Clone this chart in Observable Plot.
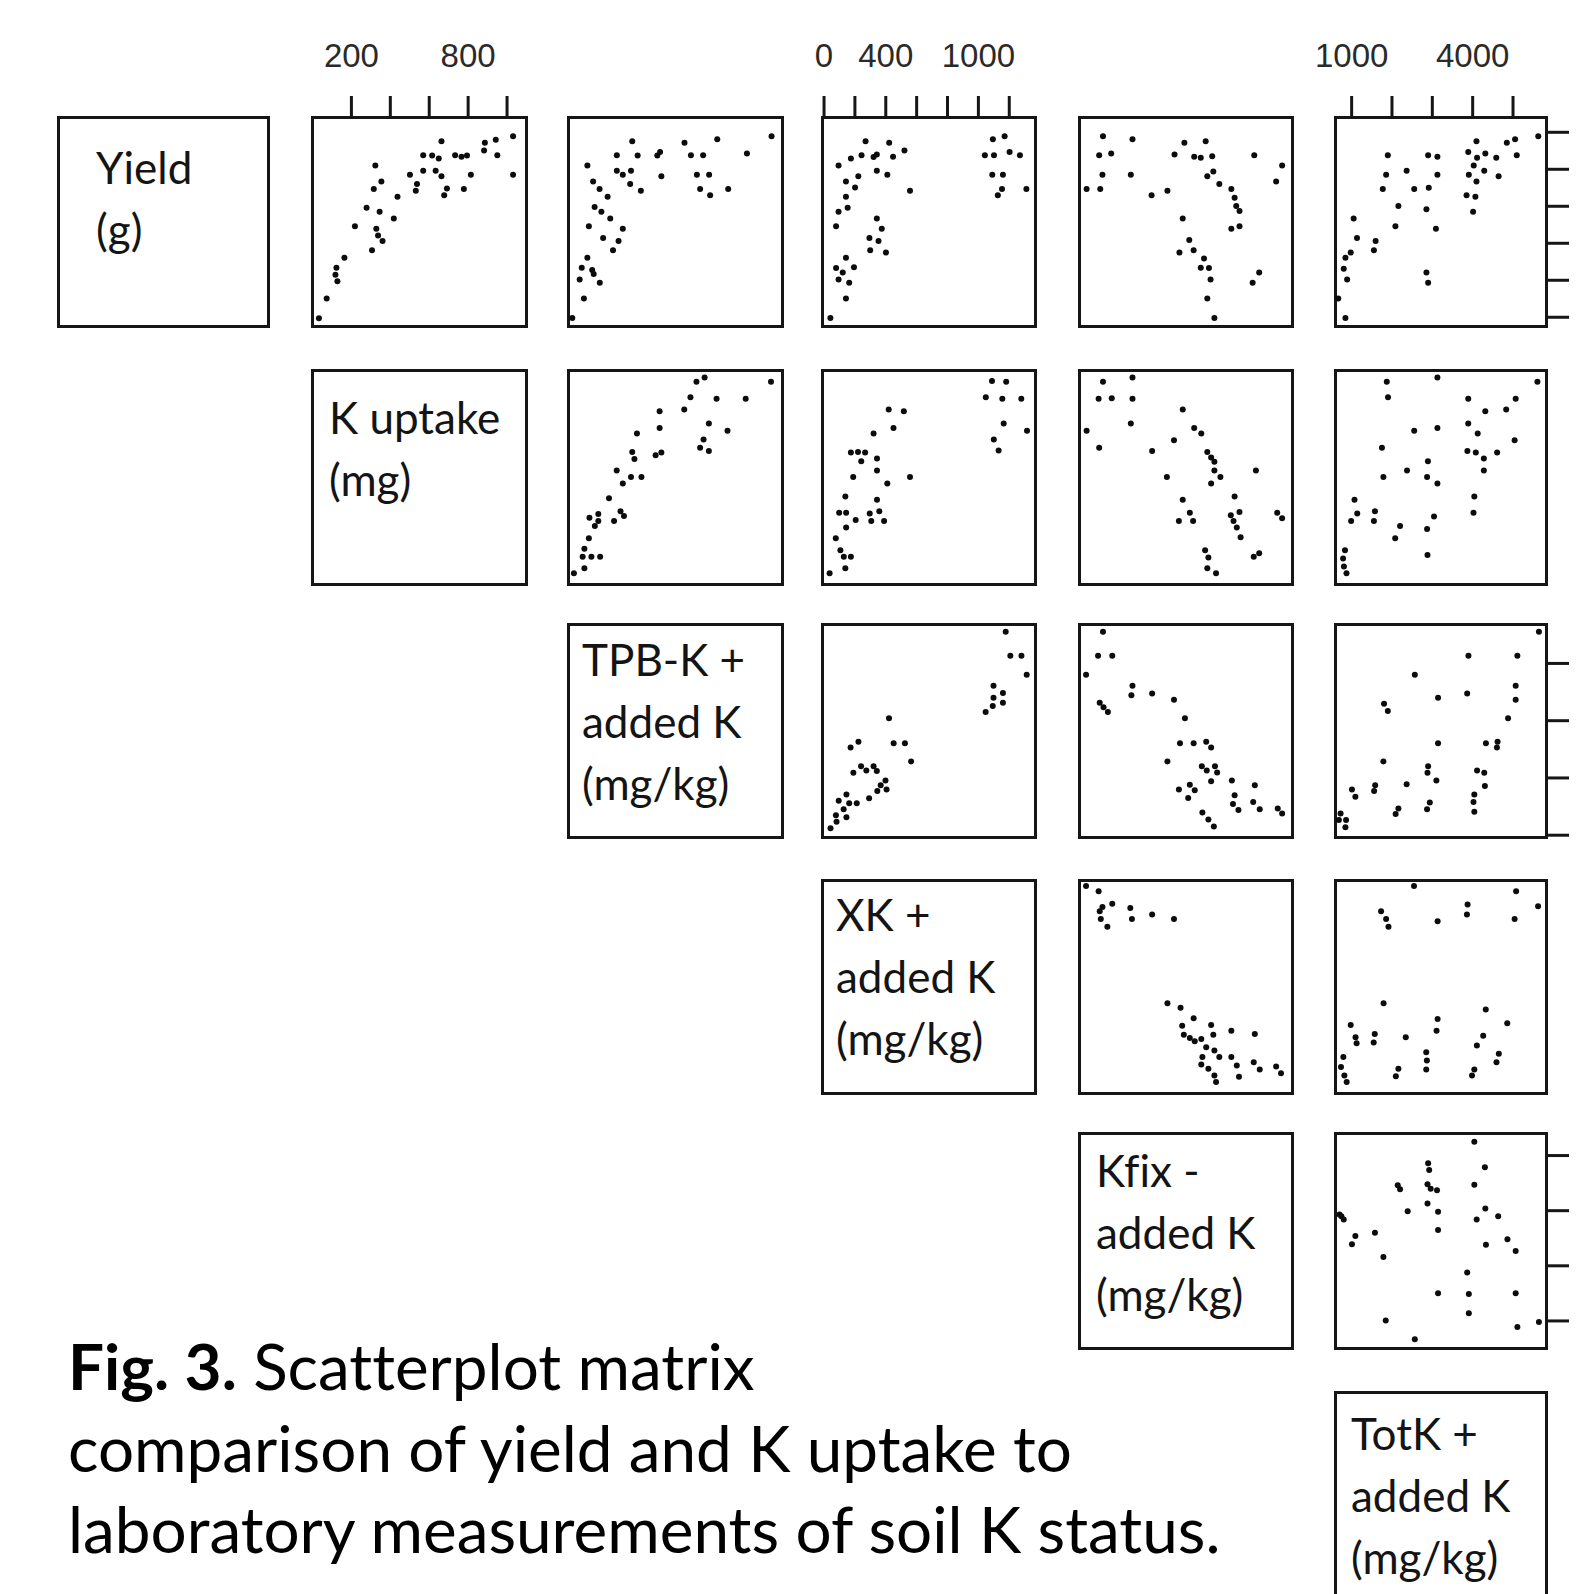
<!DOCTYPE html>
<html><head><meta charset="utf-8">
<script src="https://cdn.jsdelivr.net/npm/d3@7"></script>
<script src="https://cdn.jsdelivr.net/npm/@observablehq/plot@0.6"></script>
<style>
html,body{margin:0;padding:0;background:#fff;overflow:hidden;}
#chart{position:relative;width:1577px;height:1594px;overflow:hidden;background:#fff;}
#chart svg{position:absolute;overflow:visible;}
#chart text{font-variant-ligatures:none;font-feature-settings:"liga" 0;}
</style></head>
<body><div id="chart"></div>
<script>
// ---------- variables, scales, ticks ----------
const variableLabels = ["Yield\n(g)", "K uptake\n(mg)", "TPB-K +\nadded K\n(mg/kg)", "XK +\nadded K\n(mg/kg)", "Kfix -\nadded K\n(mg/kg)", "TotK +\nadded K\n(mg/kg)"];
const variableDomains = [[0.75, 6.4], [0, 1100], [-20, 1840], [-10, 1370], [-350, 40], [600, 5830]];
const yieldTicks = [1, 2, 3, 4, 5, 6];
const kUptakeTicks = [200, 400, 600, 800, 1000];
const kUptakeTickLabels = [200, 800];
const tpbkTicks = [0, 500, 1000, 1500];
const xkTicks = [0, 200, 400, 600, 800, 1000, 1200];
const xkTickLabels = [0, 400, 1000];
const kfixTicks = [-300, -200, -100, 0];
const totkTicks = [1000, 2000, 3000, 4000, 5000];
const totkTickLabels = [1000, 4000];

// ---------- data: [x, y] per panel ----------
const yieldVsKUptake = [[1031,5.89],[886,5.72],[942,5.80],[882,5.51],[950,5.38],[663,5.76],[569,5.38],[615,5.37],[649,5.29],[733,5.38],[766,5.34],[794,5.37],[1031,4.85],[814,4.85],[569,4.96],[633,4.96],[663,4.81],[501,4.85],[537,4.60],[531,4.42],[691,4.48],[677,4.30],[778,4.47],[323,5.10],[354,4.67],[315,4.47],[437,4.26],[278,3.96],[345,3.85],[418,3.67],[218,3.46],[328,3.39],[337,3.21],[360,3.06],[306,2.81],[164,2.61],[123,2.34],[118,2.15],[128,1.97],[73,1.51],[33,0.97]];
const yieldVsTpbk = [[1745,5.89],[1273,5.81],[988,5.72],[534,5.76],[400,5.38],[581,5.37],[752,5.37],[776,5.47],[1044,5.38],[1150,5.38],[1531,5.43],[144,5.10],[400,4.96],[452,4.85],[523,4.96],[516,4.60],[609,4.42],[787,4.81],[1096,4.85],[1202,4.85],[1124,4.47],[1211,4.30],[1368,4.47],[194,4.67],[250,4.47],[320,4.26],[207,3.98],[266,3.85],[343,3.67],[157,3.46],[452,3.39],[281,3.14],[415,3.06],[367,2.81],[144,2.61],[95,2.34],[186,2.28],[199,2.17],[77,2.02],[252,1.93],[114,1.51],[13,0.98]];
const yieldVsXk = [[1094,5.81],[1170,5.89],[1042,5.38],[1101,5.38],[1202,5.47],[1269,5.38],[1090,4.85],[1159,4.85],[1153,4.47],[1126,4.30],[1311,4.47],[269,5.76],[422,5.72],[521,5.51],[174,5.29],[243,5.38],[321,5.33],[342,5.40],[447,5.34],[94,5.10],[222,4.81],[342,4.96],[410,4.85],[142,4.67],[201,4.51],[557,4.42],[142,4.26],[153,3.96],[94,3.85],[78,3.46],[342,3.67],[374,3.39],[294,3.14],[353,3.06],[299,2.81],[401,2.75],[142,2.61],[78,2.33],[121,2.21],[194,2.35],[94,2.02],[163,1.93],[142,1.51],[41,0.98]];
const yieldVsKfix = [[-307,5.89],[-253,5.81],[-314,5.38],[-292,5.43],[-308,4.85],[-256,4.85],[-337,4.47],[-312,4.47],[-218,4.30],[-189,4.42],[-158,5.72],[-119,5.76],[-176,5.40],[-140,5.34],[-128,5.31],[-107,5.35],[-116,4.81],[-105,4.94],[-94,4.60],[-72,4.47],[-66,4.23],[-63,4.01],[-57,3.87],[-72,3.39],[-57,3.46],[-30,5.38],[21,5.10],[10,4.67],[-161,3.67],[-149,3.09],[-167,2.75],[-141,2.81],[-122,2.59],[-128,2.34],[-113,2.33],[-110,2.02],[-21,2.21],[-33,1.93],[-116,1.51],[-103,0.98]];
const yieldVsTotk = [[5626,5.89],[4847,5.72],[5051,5.81],[4094,5.76],[5093,5.38],[3890,5.47],[4109,5.31],[4313,5.43],[4585,5.31],[4026,5.10],[4287,4.96],[3905,4.85],[4094,4.67],[4643,4.81],[3848,4.30],[4067,4.26],[4010,3.85],[1897,5.38],[2896,5.38],[3126,5.34],[1855,4.85],[2363,4.96],[3126,4.85],[1772,4.47],[2551,4.47],[2912,4.50],[2159,4.01],[2854,3.92],[2085,3.46],[3089,3.39],[1050,3.67],[1133,3.14],[1594,3.06],[1552,2.81],[977,2.75],[846,2.61],[804,2.31],[888,2.02],[2854,2.21],[2896,1.93],[668,1.51],[846,0.98]];
const kUptakeVsTpbk = [[1092,1042],[1163,1064],[1740,1042],[1040,963],[1267,955],[1520,955],[986,899],[772,891],[1200,828],[772,804],[1362,790],[575,776],[1154,745],[1124,703],[1200,686],[534,681],[553,645],[737,664],[787,678],[399,586],[452,519],[523,552],[614,552],[332,443],[432,376],[462,352],[376,327],[162,343],[239,363],[239,327],[209,301],[157,238],[118,184],[103,142],[179,142],[255,142],[118,84],[27,58]];
const kUptakeVsXk = [[1088,1046],[1180,1042],[1048,963],[1155,955],[1278,955],[419,899],[517,891],[450,804],[1164,828],[321,776],[1315,790],[1100,745],[1131,689],[174,678],[220,681],[266,678],[241,633],[343,648],[189,552],[343,586],[410,519],[557,552],[138,452],[343,436],[98,369],[143,369],[296,365],[306,327],[358,376],[389,327],[143,293],[205,331],[76,238],[106,176],[128,142],[174,142],[138,84],[36,58]];
const kUptakeVsKfix = [[-307,1042],[-253,1064],[-315,955],[-291,958],[-253,955],[-161,899],[-256,828],[-337,790],[-140,804],[-127,776],[-314,703],[-177,741],[-217,686],[-116,681],[-109,653],[-103,631],[-103,586],[-92,552],[-109,519],[-190,552],[-27,586],[-161,436],[-148,369],[-168,327],[-142,327],[-66,452],[-73,356],[-68,327],[-62,293],[-55,243],[-57,373],[12,369],[21,340],[-120,176],[-114,139],[-116,84],[-100,58],[-31,142],[-21,160]];
const kUptakeVsTotk = [[1871,1042],[3126,1064],[5605,1042],[1902,963],[3890,955],[5066,955],[4313,891],[4831,899],[2551,790],[3126,804],[3890,828],[4125,776],[5040,741],[1751,703],[3869,686],[4078,678],[4277,648],[4606,678],[2891,633],[1787,552],[2373,586],[2870,552],[3126,519],[4277,586],[4041,452],[1071,436],[1139,365],[1578,376],[1552,327],[4020,369],[987,327],[3042,349],[2200,301],[2870,285],[2080,238],[2880,151],[835,176],[788,134],[809,92],[872,58]];
const tpbkVsXk = [[1177,1777],[1207,1567],[1279,1567],[1313,1401],[1098,1306],[1159,1241],[1098,1200],[1159,1157],[1093,1128],[1047,1076],[421,1022],[172,767],[223,817],[451,804],[524,804],[564,644],[190,545],[240,603],[274,566],[321,603],[342,560],[398,478],[367,436],[405,400],[345,387],[292,322],[145,356],[95,300],[163,278],[212,278],[127,226],[77,175],[145,157],[81,118],[42,60]];
const tpbkVsKfix = [[-307,1777],[-316,1567],[-290,1567],[-338,1401],[-253,1306],[-255,1222],[-217,1237],[-177,1183],[-313,1157],[-306,1118],[-298,1076],[-157,1022],[-166,804],[-141,804],[-118,817],[-109,767],[-189,644],[-126,603],[-117,566],[-102,603],[-98,547],[-109,471],[-71,478],[-168,399],[-148,441],[-151,326],[-139,393],[-66,348],[-69,272],[-59,220],[-29,436],[-32,291],[-20,226],[13,233],[21,190],[-125,199],[-114,138],[-104,75]];
const tpbkVsTotk = [[5642,1777],[3895,1567],[5108,1567],[2566,1401],[3864,1237],[3142,1200],[5066,1306],[5066,1183],[4878,1022],[1803,1148],[1897,1085],[3142,804],[4329,804],[4617,817],[4601,767],[1787,644],[2896,603],[2880,545],[3100,478],[4109,566],[4287,545],[2363,445],[1583,436],[1557,387],[1008,399],[1092,335],[4303,430],[4041,356],[4020,291],[2938,285],[2870,226],[2159,233],[2091,185],[4041,205],[726,190],[862,133],[846,69],[684,133]];
const xkVsKfix = [[-338,1334],[-315,1300],[-290,1220],[-308,1199],[-313,1171],[-257,1192],[-311,1120],[-299,1071],[-254,1120],[-217,1149],[-177,1120],[-189,574],[-165,546],[-141,477],[-162,429],[-109,434],[-159,371],[-148,349],[-139,328],[-127,343],[-105,371],[-72,397],[-29,375],[-118,289],[-125,226],[-103,269],[-94,226],[-127,178],[-114,150],[-72,226],[-62,172],[-31,193],[-20,145],[-103,107],[-100,65],[-58,98],[10,165],[19,122]];
const xkVsTotk = [[2546,1334],[5077,1300],[5621,1203],[5040,1120],[3874,1214],[3858,1149],[1730,1171],[1855,1120],[1913,1071],[3131,1106],[1792,574],[4324,535],[977,434],[1097,354],[1123,316],[1573,375],[1547,321],[2342,354],[3131,472],[3105,397],[4857,445],[4261,364],[4104,301],[4648,247],[4590,193],[2849,258],[2865,204],[2849,145],[2159,150],[2096,102],[4041,145],[3984,107],[794,226],[736,161],[820,107],[877,65]];
const kfixVsTotk = [[4041,25],[2896,-14],[2922,-26],[4303,-21],[2143,-54],[2200,-61],[2880,-52],[2959,-60],[3116,-63],[4041,-53],[2880,-87],[2389,-101],[3142,-102],[4313,-96],[4632,-110],[4099,-116],[699,-107],[804,-116],[746,-110],[3142,-135],[1578,-140],[1092,-146],[1008,-161],[4329,-162],[4862,-152],[5066,-173],[1787,-184],[3864,-212],[3142,-250],[3905,-251],[5066,-250],[3905,-286],[1845,-299],[2566,-333],[5108,-311],[5642,-302]];

const captionBold = "Fig. 3.";
const captionLines = [" Scatterplot matrix", "comparison of yield and K uptake to", "laboratory measurements of soil K status."];

// ---------- layout ----------
const panels = [
  {row: 0, col: 1, data: yieldVsKUptake}, {row: 0, col: 2, data: yieldVsTpbk}, {row: 0, col: 3, data: yieldVsXk},
  {row: 0, col: 4, data: yieldVsKfix}, {row: 0, col: 5, data: yieldVsTotk},
  {row: 1, col: 2, data: kUptakeVsTpbk}, {row: 1, col: 3, data: kUptakeVsXk}, {row: 1, col: 4, data: kUptakeVsKfix}, {row: 1, col: 5, data: kUptakeVsTotk},
  {row: 2, col: 3, data: tpbkVsXk}, {row: 2, col: 4, data: tpbkVsKfix}, {row: 2, col: 5, data: tpbkVsTotk},
  {row: 3, col: 4, data: xkVsKfix}, {row: 3, col: 5, data: xkVsTotk},
  {row: 4, col: 5, data: kfixVsTotk}
];
const topAxes = {1: {ticks: kUptakeTicks, labels: kUptakeTickLabels}, 3: {ticks: xkTicks, labels: xkTickLabels}, 5: {ticks: totkTicks, labels: totkTickLabels}};
const rightAxes = {0: yieldTicks, 2: tpbkTicks, 4: kfixTicks};

const colX = [56, 310, 566, 820, 1077, 1333];
const colW = [213, 217, 217, 216, 216, 214];
const rowY = [115, 368, 622, 878, 1131, 1390];
const rowH = [212, 217, 216, 216, 218, 213];
const labelPos = [[39, 68], [18, 65], [15, 53], [15, 52], [18, 55], [17, 59]]; // [left offset, first baseline]
const BW = 3;
const INK = "#161616";
const axisFont = "'Liberation Sans', Arial, sans-serif";
const labelFont = "Lato, 'Open Sans', sans-serif";
const labelSize = 44, labelLead = 62;

const chart = document.getElementById("chart");
function place(svg, left, top) {
  svg.style.left = left + "px";
  svg.style.top = top + "px";
  chart.appendChild(svg);
}

function makePanel(r, c, data) {
  const topAxis = r === 0 ? topAxes[c] : null;
  const rightAxis = c === 5 ? rightAxes[r] : null;
  const mt = topAxis ? 80 : 2, mr = rightAxis ? 30 : 2, mb = 2, ml = 2;
  const iw = colW[c] - BW, ih = rowH[r] - BW;
  const marks = [Plot.frame({stroke: INK, strokeWidth: BW})];
  if (data) {
    marks.push(Plot.dot(data, {x: d => d[0], y: d => d[1], r: 3, fill: "#0c0c0c"}));
  } else {
    const [lx, lb] = labelPos[r];
    marks.push(Plot.text([variableLabels[r]], {
      frameAnchor: "top-left", text: d => d, textAnchor: "start", lineAnchor: "top",
      dx: lx - BW / 2, dy: lb - BW / 2 - 0.71 * labelLead,
      fontSize: labelSize, lineHeight: labelLead / labelSize, fontFamily: labelFont, fill: "#141414"
    }));
  }
  if (topAxis) {
    marks.push(Plot.axisX(topAxis.ticks, {
      anchor: "top", tickSize: 22, tickPadding: 29, strokeWidth: 3, stroke: INK, fill: "#2a2a2a",
      fontSize: 33, tickFormat: d => topAxis.labels.includes(d) ? String(d) : ""
    }));
  }
  if (rightAxis) {
    marks.push(Plot.axisY(rightAxis, {anchor: "right", tickSize: 22, strokeWidth: 3, stroke: INK, tickFormat: () => ""}));
  }
  const xOpt = data ? {domain: variableDomains[c]} : {domain: [0, 1]};
  const yOpt = data ? {domain: variableDomains[r]} : {domain: [0, 1]};
  if (!topAxis) xOpt.axis = null;
  if (!rightAxis) yOpt.axis = null;
  const svg = Plot.plot({
    width: iw + ml + mr, height: ih + mt + mb,
    marginTop: mt, marginRight: mr, marginBottom: mb, marginLeft: ml,
    x: xOpt, y: yOpt,
    style: {background: "transparent", overflow: "visible", fontFamily: axisFont, color: INK},
    marks
  });
  place(svg, colX[c] + BW / 2 - ml, rowY[r] + BW / 2 - mt);
}

for (let i = 0; i < 6; ++i) makePanel(i, i, null);
for (const p of panels) makePanel(p.row, p.col, p.data);

// ---------- caption ----------
const capTop = 1300;
const cap = d3.create("svg").attr("width", 1300).attr("height", 294)
  .style("left", "0px").style("top", capTop + "px");
chart.appendChild(cap.node());
const capFont = "Lato, 'Open Sans', sans-serif";
const probe = cap.append("text").attr("font-family", capFont).attr("font-size", 100).text(captionLines[1]);
const capSize = 100 * 1004 / probe.node().getComputedTextLength();
probe.remove();
const baselines = [1390, 1472, 1553];
captionLines.forEach((line, i) => {
  const t = cap.append("text").attr("x", 68).attr("y", baselines[i] - capTop)
    .attr("font-family", capFont).attr("font-size", capSize).attr("fill", "#000");
  if (i === 0) t.append("tspan").attr("font-weight", "bold").text(captionBold);
  t.append("tspan").text(line);
});
</script>
</body></html>
